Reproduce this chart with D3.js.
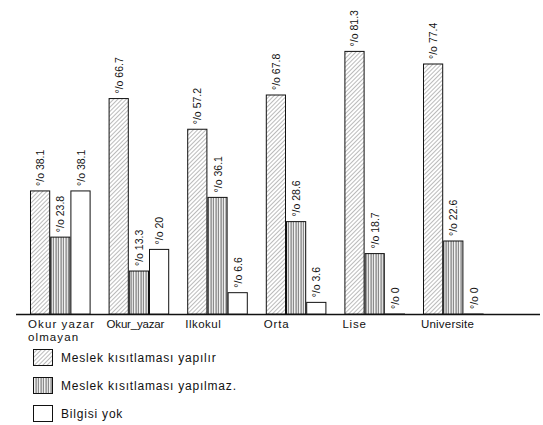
<!DOCTYPE html>
<html><head><meta charset="utf-8">
<script src="https://cdn.jsdelivr.net/npm/d3@7"></script>
<style>body{margin:0;background:#fff}svg{display:block}text{font-family:"Liberation Sans",Arial,sans-serif;fill:#111}</style>
</head><body>
<svg id="c" width="543" height="425"></svg>
<script>
const categories = ["Okur yazar|olmayan","Okur_yazar","Ilkokul","Orta","Lise","Universite"];
const series = ["Meslek kısıtlaması yapılır","Meslek kısıtlaması yapılmaz.","Bilgisi yok"];
const yapilir  = [38.1, 66.7, 57.2, 67.8, 81.3, 77.4];
const yapilmaz = [23.8, 13.3, 36.1, 28.6, 18.7, 22.6];
const bilgisiYok = [38.1, 20, 6.6, 3.6, 0, 0];
const valueLabels = [
  ["°/o 38.1","°/o 66.7","°/o 57.2","°/o 67.8","°/o 81.3","°/o  77.4"],
  ["°/o 23.8","°/o 13.3","°/o 36.1","°/o 28.6","°/o 18.7","°/o 22.6"],
  ["°/o 38.1","°/o 20","°/o 6.6","°/o 3.6","°/o 0","°/o 0"]
];
const allValues = [yapilir, yapilmaz, bilgisiYok];

const svg = d3.select("#c");
const defs = svg.append("defs");
// diagonal hatch
const p1 = defs.append("pattern").attr("id","diag").attr("patternUnits","userSpaceOnUse")
  .attr("width",3).attr("height",3).attr("patternTransform","rotate(45)");
p1.append("rect").attr("width",3).attr("height",3).attr("fill","#fff");
p1.append("line").attr("x1",0).attr("y1",0).attr("x2",0).attr("y2",3).attr("stroke","#555").attr("stroke-width",0.8);
// vertical stripes
const p2 = defs.append("pattern").attr("id","vert").attr("patternUnits","userSpaceOnUse")
  .attr("width",2.5).attr("height",4);
p2.append("rect").attr("width",2.5).attr("height",4).attr("fill","#fff");
p2.append("line").attr("x1",1).attr("y1",0).attr("x2",1).attr("y2",4).attr("stroke","#444").attr("stroke-width",0.9);
const fills = ["url(#diag)","url(#vert)","#fff"];

const baseY = 314;
const y = d3.scaleLinear().domain([0,100]).range([baseY, baseY-323]);
const x0 = d3.scaleBand().domain(categories).range([21,492.6]).paddingInner(0.229).paddingOuter(0.1145);
const x1 = d3.scaleBand().domain([0,1,2]).range([0,x0.bandwidth()]).padding(0);

// baseline
svg.append("line").attr("x1",16).attr("x2",540).attr("y1",baseY+0.5).attr("y2",baseY+0.5)
  .attr("stroke","#111").attr("stroke-width",1.3);

const labelSpacing = [1.1, -0.2, 0.5, 0.8, 0.8, 0.2];
const g = svg.append("g");
categories.forEach((c,i)=>{
  allValues.forEach((vals,s)=>{
    const v = vals[i];
    const bx = x0(c)+x1(s);
    g.append("rect").attr("x",bx+0.5).attr("y",y(v)).attr("width",x1.bandwidth()-1)
      .attr("height",Math.max(0.01,baseY-y(v))).attr("fill",fills[s])
      .attr("stroke","#111").attr("stroke-width",1);
    const cx = bx + x1.bandwidth()/2;
    g.append("text").attr("transform",`translate(${cx+4},${y(v)-5}) rotate(-90)`)
      .attr("font-size",10.5).attr("text-anchor","start").text(valueLabels[s][i]);
  });
  const parts = c.split("|");
  parts.forEach((p,k)=> svg.append("text").attr("x",x0(c)-2).attr("y",328+k*12.5)
    .attr("font-size",11.5).attr("letter-spacing", labelSpacing[i]).text(p));
});

// legend
const ly = [349,377,405];
series.forEach((s,k)=>{
  svg.append("rect").attr("x",33.5).attr("y",ly[k]+0.5).attr("width",19).attr("height",16)
    .attr("fill",fills[k]).attr("stroke","#111").attr("stroke-width",1);
  svg.append("text").attr("x",61).attr("y",ly[k]+12.5).attr("font-size",12)
    .attr("letter-spacing",0.8).text(s);
});
</script>
</body></html>
